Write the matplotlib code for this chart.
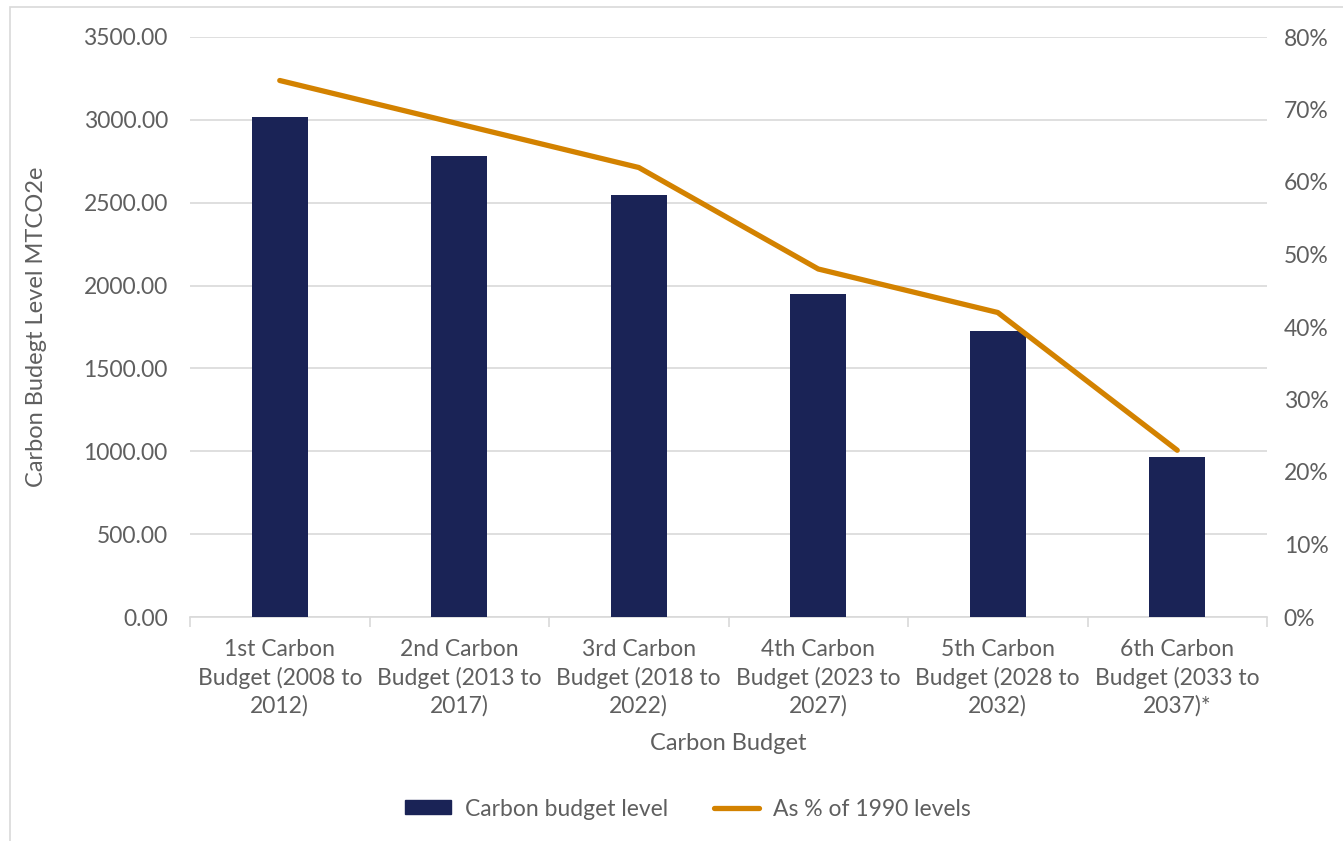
import matplotlib
matplotlib.use("Agg")
import matplotlib.pyplot as plt
from matplotlib.patches import Rectangle
from matplotlib.lines import Line2D
from matplotlib.ticker import FuncFormatter, MultipleLocator

categories = [
    "1st Carbon\nBudget (2008 to\n2012)",
    "2nd Carbon\nBudget (2013 to\n2017)",
    "3rd Carbon\nBudget (2018 to\n2022)",
    "4th Carbon\nBudget (2023 to\n2027)",
    "5th Carbon\nBudget (2028 to\n2032)",
    "6th Carbon\nBudget (2033 to\n2037)*",
]
budget_level = [3018, 2782, 2544, 1950, 1725, 965]
pct_1990 = [74, 68, 62, 48, 42, 23]

BAR = "#1a2356"
LINE = "#d38200"
TXT = "#5f5f5f"
GRID = "#d9d9d9"

plt.rcParams['font.family'] = ['Lato', 'DejaVu Sans']
FS = 16.5

W, H = 1343, 841
fig = plt.figure(figsize=(W / 100, H / 100), dpi=100)
ax = fig.add_axes([190 / W, 1 - 617 / H, (1267 - 190) / W, (617 - 37) / H])

# outer chart border
fig.patches.append(Rectangle((10 / W, -0.05), 1.2, 1 - 7 / H + 0.05, transform=fig.transFigure,
                             fill=False, edgecolor="#d9d9d9", linewidth=1.2))

x = list(range(len(categories)))
ax.bar(x, budget_level, width=0.31, color=BAR, zorder=3, label="Carbon budget level")
ax.set_xlim(-0.5, len(categories) - 0.5)
ax.set_ylim(0, 3500)
ax.yaxis.set_major_locator(MultipleLocator(500))
ax.yaxis.set_major_formatter(FuncFormatter(lambda v, p: f"{v:.2f}"))
ax.grid(axis="y", color=GRID, linewidth=1.2, zorder=0)
ax.set_axisbelow(True)
for s in ["top", "right", "left"]:
    ax.spines[s].set_visible(False)
ax.spines["bottom"].set_color(GRID)
ax.spines["bottom"].set_linewidth(1.2)
ax.set_xticks(x)
ax.set_xticklabels(categories, fontsize=FS, color=TXT, linespacing=1.35)
ax.set_xticks([i - 0.5 for i in range(len(categories) + 1)], minor=True)
ax.tick_params(axis="x", which="major", length=0, pad=16)
ax.tick_params(axis="x", which="minor", length=7, color=GRID, width=1.2)
ax.tick_params(axis="y", length=0, labelsize=FS, labelcolor=TXT, pad=16)
ax.set_xlabel("Carbon Budget", fontsize=FS + 0.5, color=TXT, labelpad=12)
ax.set_ylabel("Carbon Budegt Level MTCO2e", fontsize=FS + 0.5, color=TXT, labelpad=26)

ax2 = ax.twinx()
ax2.plot(x, pct_1990, color=LINE, linewidth=3.8, solid_capstyle="round", zorder=4,
         label="As % of 1990 levels")
ax2.set_ylim(0, 80)
ax2.yaxis.set_major_locator(MultipleLocator(10))
ax2.yaxis.set_major_formatter(FuncFormatter(lambda v, p: f"{v:.0f}%"))
ax2.tick_params(axis="y", length=0, labelsize=FS, labelcolor=TXT, pad=12)
for s in ["top", "right", "left", "bottom"]:
    ax2.spines[s].set_visible(False)

handles = [Rectangle((0, 0), 1, 1, color=BAR),
           Line2D([0], [0], color=LINE, linewidth=3.8, solid_capstyle="round")]
fig.legend(handles, ["Carbon budget level", "As % of 1990 levels"],
           loc="center", bbox_to_anchor=(688 / W, 1 - 809 / H), ncol=2, frameon=False,
           fontsize=FS, labelcolor=TXT, handlelength=2.0, handleheight=0.55,
           handletextpad=0.6, columnspacing=2.0)

fig.savefig("out.png", dpi=100)
